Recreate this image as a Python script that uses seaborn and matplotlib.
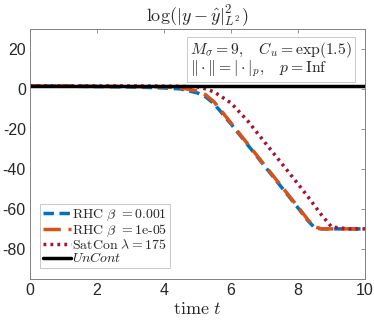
import numpy as np
import pandas as pd
import matplotlib
matplotlib.use("Agg")
import matplotlib.pyplot as plt
import seaborn as sns

# time grid and curves
t = [0, 1, 2, 3, 4, 4.5, 5, 5.25, 5.5, 6, 6.5, 7, 7.5, 8, 8.3, 8.5, 8.7, 9, 9.5, 10]
rhc_3 = [1.5, 1.4, 1.2, 1.0, 0.5, 0.0, -2.0, -4.0, -7.5, -17.5, -28, -38.5, -49, -59.5,
         -66, -69.5, -70, -70, -70, -70]
rhc_5 = [1.5, 1.4, 1.3, 1.2, 1.0, 0.5, -1.0, -3.0, -6.5, -17, -27.5, -38, -48.5, -59,
         -65.5, -69, -70, -70, -70, -70]
satcon = [1.5, 1.5, 1.5, 1.5, 1.4, 1.3, 1.0, 0.0, -1.5, -7, -16, -26.5, -37, -47.5,
          -54, -58.5, -63, -69, -70, -70]
uncont = [1.5] * len(t)

labels = [r"$\mathrm{RHC}\ \beta\ {=}0.001$", r"$\mathrm{RHC}\ \beta\ {=}1\mathrm{e}\text{-}05$",
          r"$\mathrm{SatCon}\ \lambda = 175$", r"$UnCont$"]

sns.set_style("white")
plt.rcParams["mathtext.fontset"] = "cm"
plt.rcParams["axes.unicode_minus"] = False
plt.rcParams["font.family"] = ["Liberation Sans", "DejaVu Sans"]

fig = plt.figure(figsize=(3.74, 3.22), dpi=100)
ax = fig.add_axes([0.080, 0.134, 0.896, 0.776])

styles = [
    (rhc_3, "#0072BD", (3.0, 1.6)),
    (rhc_5, "#D95319", (5.0, 2.2)),
    (satcon, "#A2142F", (0.8, 1.2)),
    (uncont, "black", None),
]
for (vals, col, dash), lab in zip(styles, labels):
    df = pd.DataFrame({"t": t, "v": vals})
    sns.lineplot(data=df, x="t", y="v", ax=ax, color=col, lw=2.5, label=lab)
    if dash is not None:
        ax.lines[-1].set_dashes(dash)

ax.set_xlim(0, 10)
ax.set_ylim(-95, 30)
ax.set_xticks([0, 2, 4, 6, 8, 10])
ax.set_yticks([-80, -60, -40, -20, 0, 20])
ax.tick_params(direction="in", top=True, right=True, length=3, width=0.6,
               colors="#808080", labelcolor="#262626", labelsize=11.5, pad=3)
for s in ax.spines.values():
    s.set_color("#808080")
    s.set_linewidth(0.7)

ax.set_xlabel(r"$\mathrm{time}\ t$", fontsize=13, color="#262626", labelpad=2)
ax.set_ylabel("")
ax.set_title(r"$\log(|y-\hat{y}|^2_{L^2})$", fontsize=13, pad=5)

leg = ax.legend(loc="lower left", fontsize=10, handlelength=2.0, handletextpad=0.1,
                borderpad=0.2, labelspacing=-0.05, fancybox=False, framealpha=1,
                bbox_to_anchor=(0.01, 0.015))
leg.get_frame().set_edgecolor("#c8c8c8")
leg.get_frame().set_linewidth(0.7)

ax.text(0.478, 0.955, r"$M_\sigma=9,\quad C_u=\exp(1.5)$" + "\n" +
        r"$\|\cdot\|=|\cdot|_p,\quad p=\mathrm{Inf}$",
        transform=ax.transAxes, ha="left", va="top", fontsize=11.3, linespacing=0.85,
        bbox=dict(boxstyle="square,pad=0.22", fc="white", ec="#c8c8c8", lw=0.7))

fig.savefig("out.png", dpi=100)
